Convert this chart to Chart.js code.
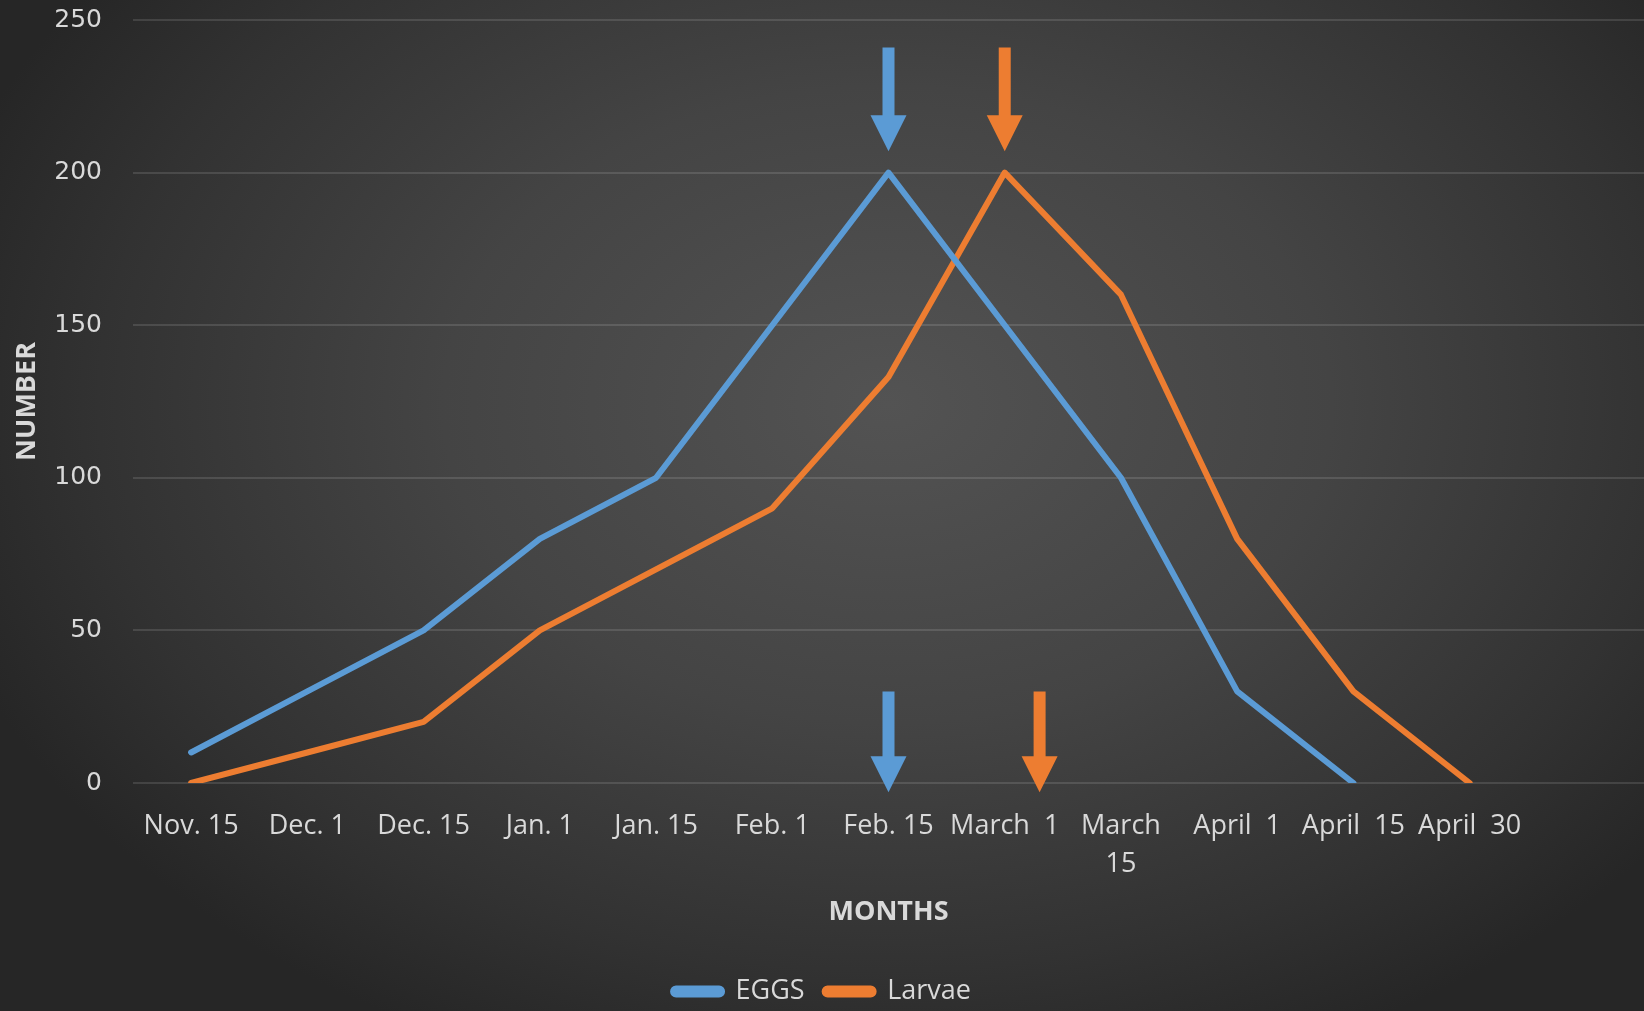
<!DOCTYPE html>
<html>
<head>
<meta charset="utf-8">
<title>Eggs and Larvae</title>
<script src="https://cdn.jsdelivr.net/npm/chart.js@4/dist/chart.umd.min.js"></script>
<style>
    html, body {
        margin: 0;
        padding: 0;
        overflow: hidden;
    }
    body {
        background: radial-gradient(ellipse 60% 70% at 54% 40%, #535353 0%, #444444 45%, #323232 80%, #262626 100%);
    }
    .chart-box {
        width: 1644px;
        height: 1011px;
        position: relative;
    }
</style>
</head>
<body>
<div class="chart-box">
    <canvas id="eggs-chart"></canvas>
</div>
<script>
const months = ["Nov. 15", "Dec. 1", "Dec. 15", "Jan. 1", "Jan. 15", "Feb. 1", "Feb. 15", "March  1", ["March", "15"], "April  1", "April  15", "April  30", ""]
const eggs = [10, 30, 50, 80, 100, 150, 200, 150, 100, 30, 0, null, null]
const larvae = [0, 10, 20, 50, 70, 90, 133, 200, 160, 80, 30, 0, null]
const yTicks = [0, 50, 100, 150, 200, 250]

// arrows pointing at the peaks, in data units (category index, top value, tip value)
const arrowIndex = [6, 7, 6, 7.3]
const arrowFrom = [241, 241, 30, 30]
const arrowTo = [207, 207, -3, -3]
const arrowSeries = [0, 1, 0, 1]

const colors = {
    eggs: "#5b9bd5",
    larvae: "#ed7d31",
    text: "#d9d9d9",
    grid: "rgba(255, 255, 255, 0.12)"
}

const arrowPlugin = {
    id: "peakArrows",
    afterDatasetsDraw(chart){
        const { ctx, scales: { x, y } } = chart
        const fills = [colors.eggs, colors.larvae]

        ctx.save()
        arrowIndex.forEach((index, i) => {
            const px = x.getPixelForValue(index)
            const top = y.getPixelForValue(arrowFrom[i])
            const tip = y.getPixelForValue(arrowTo[i])
            const head = 36
            const stem = 6

            ctx.fillStyle = fills[arrowSeries[i]]
            ctx.beginPath()
            ctx.moveTo(px - stem, top)
            ctx.lineTo(px + stem, top)
            ctx.lineTo(px + stem, tip - head)
            ctx.lineTo(px + head / 2, tip - head)
            ctx.lineTo(px, tip)
            ctx.lineTo(px - head / 2, tip - head)
            ctx.lineTo(px - stem, tip - head)
            ctx.closePath()
            ctx.fill()
        })
        ctx.restore()
    }
}

class EggsChartController {

    constructor(){
        this.context = document.getElementById("eggs-chart").getContext("2d")
        this.chart = this.buildChart()
    }

    buildChart(){
        const line = (label, data, color) => ({
            label,
            data,
            borderColor: color,
            backgroundColor: color,
            borderWidth: 6,
            pointRadius: 0,
            borderJoinStyle: "round",
            borderCapStyle: "round",
            tension: 0
        })

        return new Chart(this.context, {
            type: "line",
            data: {
                labels: months,
                datasets: [
                    line("EGGS", eggs, colors.eggs),
                    line("Larvae", larvae, colors.larvae)
                ]
            },
            options: {
                responsive: true,
                maintainAspectRatio: false,
                animation: false,
                layout: { padding: { top: 20, left: 0, right: 0, bottom: -4 } },
                plugins: {
                    tooltip: { enabled: false },
                    legend: {
                        position: "bottom",
                        labels: {
                            color: colors.text,
                            font: { family: "'Open Sans'", size: 27 },
                            boxWidth: 49,
                            boxHeight: 6,
                            borderRadius: 3,
                            useBorderRadius: true,
                            padding: 20
                        }
                    }
                },
                scales: {
                    x: {
                        offset: true,
                        grid: { display: false, drawTicks: false },
                        border: { display: false },
                        ticks: {
                            color: colors.text,
                            font: { family: "'Open Sans'", size: 27, lineHeight: 1.42 },
                            padding: 24,
                            autoSkip: false,
                            maxRotation: 0,
                            minRotation: 0
                        },
                        title: {
                            display: true,
                            text: "MONTHS",
                            color: colors.text,
                            font: { family: "'Open Sans'", size: 27, weight: "bold" },
                            padding: { top: 0, bottom: 29 }
                        },
                        afterFit(scale){
                            scale.height = 175
                            scale.paddingLeft = 0
                            scale.paddingRight = 0
                        }
                    },
                    y: {
                        min: 0,
                        max: 250,
                        afterBuildTicks(scale){ scale.ticks = yTicks.map(value => ({ value })) },
                        grid: { color: colors.grid, lineWidth: 2, drawTicks: false },
                        border: { display: false },
                        ticks: {
                            color: colors.text,
                            font: { family: "'DejaVu Sans'", size: 25 },
                            padding: 31
                        },
                        title: {
                            display: true,
                            text: "NUMBER",
                            color: colors.text,
                            font: { family: "'Open Sans'", size: 27, weight: "bold" },
                            padding: { top: 11, bottom: 0 }
                        },
                        afterFit(scale){
                            scale.width = 133
                            scale.paddingTop = 0
                            scale.paddingBottom = 0
                        }
                    }
                }
            },
            plugins: [arrowPlugin]
        })
    }
}

const controller = new EggsChartController()
</script>
</body>
</html>
